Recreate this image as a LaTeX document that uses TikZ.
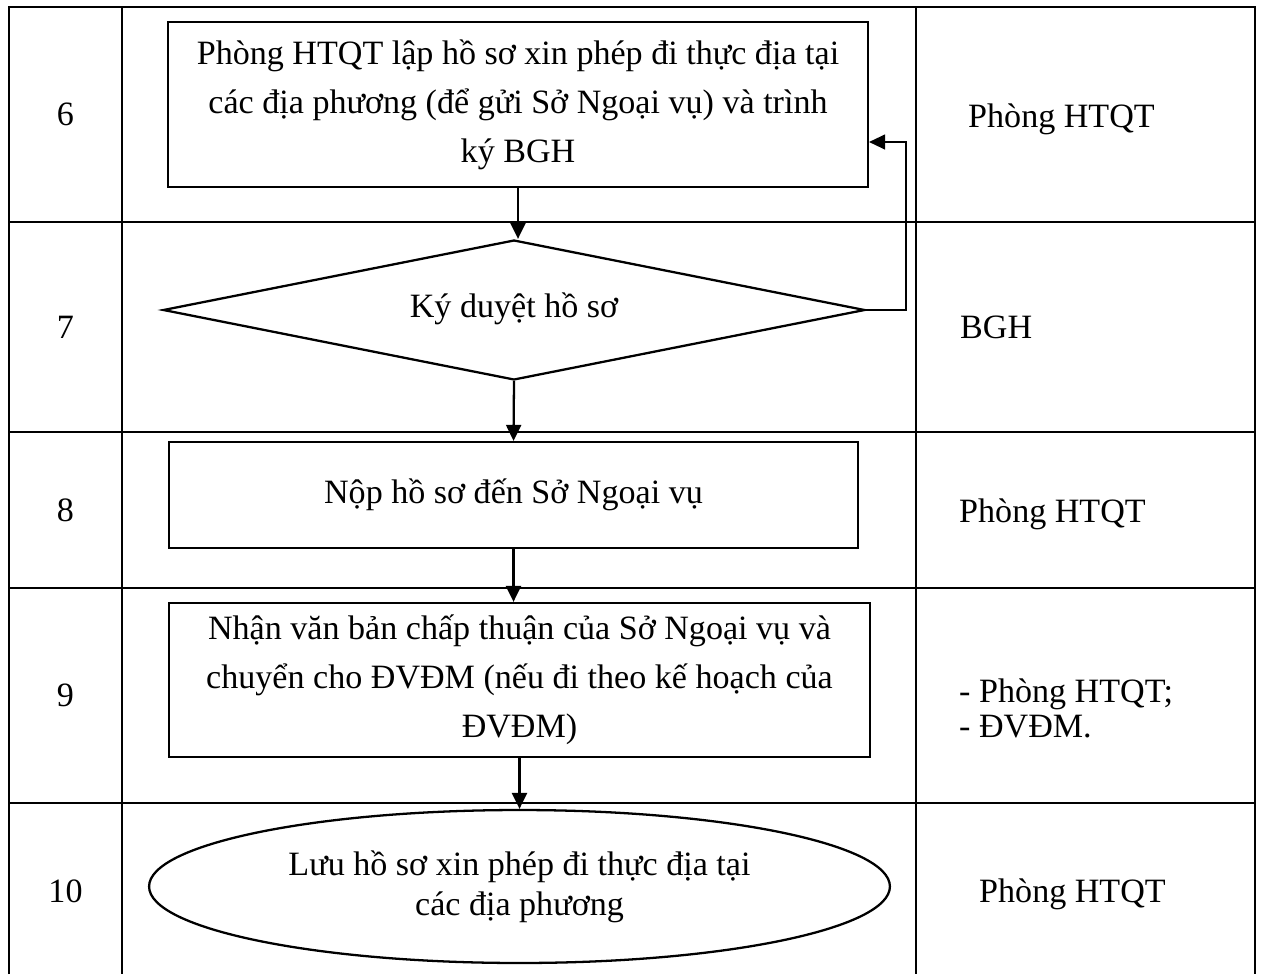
\documentclass[tikz,border=0pt]{standalone}
\usepackage{fontspec}
\setmainfont{Liberation Serif}
\usetikzlibrary{shapes.geometric,arrows.meta}

\begin{document}
\begin{tikzpicture}[x=0.02cm,y=-0.02cm,
    every node/.style={font=\fontsize{19.4pt}{27.9pt}\selectfont},
    stepbox/.style={draw,line width=1.3pt,rectangle,align=center,inner sep=0pt},
    flow/.style={-{Triangle[length=0.32cm,width=0.3cm]},line width=1.3pt},
    back flow/.style={-{Triangle[length=0.32cm,width=0.3cm]},line width=0.7pt},
    rule/.style={line width=1.4pt}]
      \useasboundingbox (0,0) rectangle (1261,974);
      % table
      \draw[rule] (9,974) -- (9,7) -- (1255,7) -- (1255,974);
      \draw[rule] (122,7) -- (122,974);
      \draw[rule] (916,7) -- (916,974);
      \foreach \y in {222,432,588,803} { \draw[rule] (9,\y) -- (1255,\y); }
      % step numbers
      \foreach \n/\y in {6/114.5,7/327,8/510,9/695.5,10/891} { \node (num\n) at (65.5,\y) {\n}; }
      % who is in charge
      \node[anchor=base west] (who6) at (962,127) {Phòng HTQT};
      \node[anchor=base west] (who7) at (954,338) {BGH};
      \node[anchor=base west] (who8) at (953,522) {Phòng HTQT};
      \node[anchor=base west,align=left,font=\fontsize{19.4pt}{19.9pt}\selectfont] (who9) at (953,737) {- Phòng HTQT;\\- ĐVĐM.};
      \node[anchor=base west] (who10) at (973,902) {Phòng HTQT};
      % flow
      \node[stepbox,minimum width=14cm,minimum height=3.3cm] (plan) at (518,104.5)
        {Phòng HTQT lập hồ sơ xin phép đi thực địa tại\\các địa phương (để gửi Sở Ngoại vụ) và trình\\ký BGH};
      \node[draw,diamond,aspect=5,line width=1.3pt,inner sep=0pt,minimum width=14.04cm,minimum height=2.8cm,
        text height=13pt,text depth=5pt] (check) at (514,310) {Ký duyệt hồ sơ};
      \node[stepbox,minimum width=13.78cm,minimum height=2.12cm] (send) at (513.5,495) {Nộp hồ sơ đến Sở Ngoại vụ};
      \node[stepbox,minimum width=14.02cm,minimum height=3.08cm] (reply) at (519.5,680)
        {Nhận văn bản chấp thuận của Sở Ngoại vụ và\\chuyển cho ĐVĐM (nếu đi theo kế hoạch của\\ĐVĐM)};
      \node[draw,ellipse,line width=1.3pt,inner sep=0pt,align=center,minimum width=14.82cm,minimum height=3.06cm,
        font=\fontsize{19.4pt}{22.8pt}\selectfont] (archive) at (519.5,886.5)
        {Lưu hồ sơ xin phép đi thực địa tại\\các địa phương};
      \coordinate (back) at (906,142);
      \draw[flow] (plan.south) -- (plan.south |- check.north);
      \draw[flow] (check.south) -- (send.north);
      \draw[flow] (send.south) -- (send.south |- reply.north);
      \draw[flow] (reply.south) -- (archive.north);
      \draw[back flow] (check.east) -| (back) -- (back -| plan.east);
\end{tikzpicture}
\end{document}
